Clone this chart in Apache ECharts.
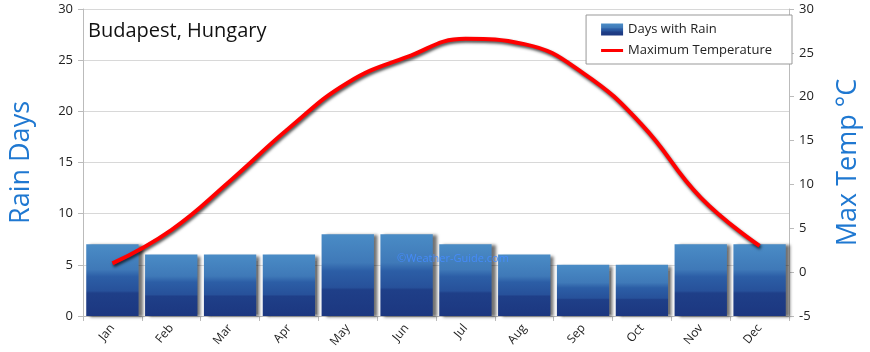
<!DOCTYPE html>
<html>
<head>
<meta charset="utf-8">
<script src="https://cdn.jsdelivr.net/npm/echarts@6/dist/echarts.min.js"></script>
<style>
  html, body { margin: 0; padding: 0; background: #fff; }
  #chart { width: 870px; height: 352px; }
</style>
</head>
<body>
<div id="chart"></div>
<script>
// Budapest monthly climate
var months = ['Jan', 'Feb', 'Mar', 'Apr', 'May', 'Jun', 'Jul', 'Aug', 'Sep', 'Oct', 'Nov', 'Dec'];
var rainDays = [7, 6, 6, 6, 8, 8, 7, 6, 5, 5, 7, 7];
var maxTemp = [1, 4.8, 10.4, 16.4, 21.6, 24.5, 26.6, 26, 22.7, 16.8, 8.5, 3];

var font = '"Open Sans", "DejaVu Sans", sans-serif';
var chart = echarts.init(document.getElementById('chart'));

var option = {
    animation: false,
    backgroundColor: '#fff',
    textStyle: { fontFamily: font },
    grid: { left: 76, right: 73, top: 9, bottom: 36 },
    title: {
        text: 'Budapest, Hungary',
        left: 83, top: 16,
        textStyle: { fontSize: 20, fontWeight: 'normal', color: '#111', fontFamily: font }
    },
    graphic: [
        {
            type: 'text', left: 397, top: 253, silent: true, z: 100,
            style: { text: '©Weather-Guide.com', fill: 'rgba(70,140,255,0.9)', fontSize: 11, fontFamily: font }
        }
    ],
    legend: {
        orient: 'vertical',
        right: 78, top: 15,
        padding: [8, 20, 7, 15],
        itemGap: 8,
        itemWidth: 22, itemHeight: 12,
        backgroundColor: '#fff',
        borderColor: '#999', borderWidth: 1,
        textStyle: { fontSize: 13, color: '#222', fontFamily: font },
        data: [
            { name: 'Days with Rain', icon: 'rect' },
            { name: 'Maximum Temperature', icon: 'path://M0,0 M0,4.5 L22,4.5 L22,7.5 L0,7.5 Z M22,12' }
        ]
    },
    xAxis: {
        type: 'category',
        data: months,
        boundaryGap: true,
        axisLine: { show: true, lineStyle: { color: '#bbb' } },
        axisTick: { show: true, length: 5, lineStyle: { color: '#bbb' } },
        axisLabel: { rotate: 50, color: '#222', fontSize: 12, margin: 10 },
        splitLine: { show: false }
    },
    yAxis: [
        {
            type: 'value', min: 0, max: 30, interval: 5,
            name: 'Rain Days', nameLocation: 'middle', nameGap: 48, nameRotate: 90,
            nameTextStyle: { color: '#1f78d1', fontSize: 27, fontFamily: font },
            axisLine: { show: true, lineStyle: { color: '#bbb' } },
            axisTick: { show: true, length: 5, lineStyle: { color: '#bbb' } },
            axisLabel: { color: '#222', fontSize: 13, margin: 10 },
            splitLine: { show: true, lineStyle: { color: '#d8d8d8' } }
        },
        {
            type: 'value', min: -5, max: 30, interval: 5,
            name: 'Max Temp °C', nameLocation: 'middle', nameGap: 46, nameRotate: 90,
            nameTextStyle: { color: '#1f78d1', fontSize: 27, fontFamily: font },
            axisLine: { show: true, lineStyle: { color: '#bbb' } },
            axisTick: { show: true, length: 5, lineStyle: { color: '#bbb' } },
            axisLabel: { color: '#222', fontSize: 13, margin: 10 },
            splitLine: { show: false }
        }
    ],
    series: [
        {
            name: 'Days with Rain',
            type: 'bar',
            yAxisIndex: 0,
            data: rainDays,
            barCategoryGap: '11%',
            color: '#2c5ea6',
            itemStyle: {
                color: new echarts.graphic.LinearGradient(0, 0, 0, 1, [
                    { offset: 0, color: '#4a8cc6' },
                    { offset: 0.35, color: '#3f79b8' },
                    { offset: 0.45, color: '#2c5ea6' },
                    { offset: 0.65, color: '#27519a' },
                    { offset: 0.68, color: '#1f3f88' },
                    { offset: 1, color: '#1c3780' }
                ]),
                shadowColor: 'rgba(0,0,0,0.55)',
                shadowBlur: 3,
                shadowOffsetX: 4,
                shadowOffsetY: 1
            }
        },
        {
            name: 'Maximum Temperature',
            type: 'line',
            yAxisIndex: 1,
            data: maxTemp,
            smooth: 0.45,
            showSymbol: false,
            symbol: 'none',
            color: '#ff0000',
            lineStyle: {
                color: '#ff0000',
                width: 4,
                shadowColor: 'rgba(0,0,0,0.7)',
                shadowBlur: 3,
                shadowOffsetX: 1,
                shadowOffsetY: 2
            },
            z: 5
        }
    ]
};

chart.setOption(option);
</script>
</body>
</html>
